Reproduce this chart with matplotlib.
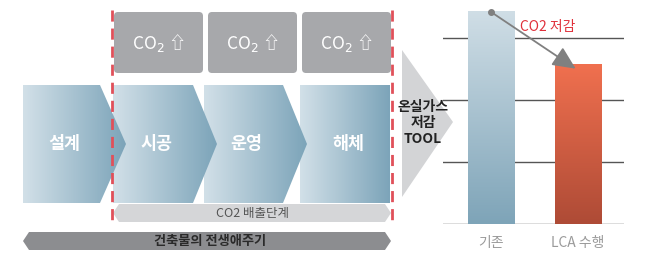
import matplotlib
matplotlib.use("Agg")
import matplotlib.pyplot as plt
import numpy as np
from matplotlib.patches import Polygon, FancyBboxPatch
from matplotlib.colors import LinearSegmentedColormap

plt.rcParams['font.family'] = ['Noto Sans CJK KR', 'DejaVu Sans']
plt.rcParams['mathtext.fontset'] = 'dejavusans'

# data
stages = ['설계', '시공', '운영', '해체']
co2_boxes = ['CO$_2$ ⇧', 'CO$_2$ ⇧', 'CO$_2$ ⇧']
tool_label = '온실가스\n저감\nTOOL'
emit_label = 'CO2 배출단계'
life_label = '건축물의 전생애주기'
categories = ['기존', 'LCA 수행']
values = [3.44, 2.58]
reduce_label = 'CO2 저감'

W, H = 653, 254
fig = plt.figure(figsize=(W / 100, H / 100), dpi=100)
ax = fig.add_axes([0, 0, 1, 1])
ax.set_xlim(0, W)
ax.set_ylim(H, 0)
ax.axis('off')

blue = LinearSegmentedColormap.from_list('b', ['#d2e0e8', '#7ca4b9'])
grad_h = np.linspace(0, 1, 256).reshape(1, -1)


def grad_poly(pts, z):
    poly = Polygon(pts, closed=True, facecolor='none', edgecolor='none', zorder=z)
    ax.add_patch(poly)
    xs = [p[0] for p in pts]
    ys = [p[1] for p in pts]
    im = ax.imshow(grad_h, cmap=blue, extent=(min(xs), max(xs), max(ys), min(ys)),
                   aspect='auto', zorder=z, interpolation='bicubic')
    im.set_clip_path(poly)


# chevrons (left edge, right edge at top, tip x)
chev = [(23, 100, 126), (113, 193, 217), (204, 283, 307), (300, 390, 390)]
top, bot, mid = 85, 203, 144
for i, (name, (l, r, tip)) in enumerate(zip(stages, chev)):
    pts = [(l, top), (r, top), (tip, mid), (r, bot), (l, bot)]
    grad_poly(pts, 10 - i)
    ax.text((l + r) / 2 + 3, mid, name, color='white', fontsize=12.5,
            fontweight='bold', ha='center', va='center', zorder=20)

# grey CO2 boxes
box_x = [(114, 203), (208, 297), (302, 391)]
for lab, (x0, x1) in zip(co2_boxes, box_x):
    ax.add_patch(FancyBboxPatch((x0 + 4, 16), x1 - x0 - 8, 53,
                                boxstyle='round,pad=4', fc='#a7a8ab', ec='none', zorder=5))
    ax.text((x0 + x1) / 2, 43, lab, color='white', fontsize=12.5,
            ha='center', va='center', zorder=6)

# red dashed lines
for x in (112, 392):
    ax.plot([x, x], [10, 222], color='#e0505a', lw=2, ls=(0, (4, 2.5)), zorder=15)


def double_arrow(x0, x1, y0, y1, color, z):
    m = (y0 + y1) / 2
    h = 6
    pts = [(x0, m), (x0 + h, y0), (x1 - h, y0), (x1, m), (x1 - h, y1), (x0 + h, y1)]
    ax.add_patch(Polygon(pts, closed=True, fc=color, ec='none', zorder=z))


double_arrow(113, 391, 204, 222, '#d5d6d8', 4)
ax.text(252, 213, emit_label, color='#555555', fontsize=9, ha='center', va='center', zorder=6)
double_arrow(23, 391, 232, 250, '#8c8d90', 4)
ax.text(210, 241, life_label, color='#2a2a2a', fontsize=9.5, fontweight='bold',
        ha='center', va='center', zorder=6)

# big triangle
ax.add_patch(Polygon([(402, 50), (453, 122), (402, 197)], closed=True,
                     fc='#d3d4d6', ec='none', zorder=3))
ax.text(423, 123, tool_label, color='#222222', fontsize=10, fontweight='bold',
        ha='center', va='center', linespacing=1.15, zorder=6)

# bar chart
bx = fig.add_axes([443 / W, (H - 224) / H, (624 - 443) / W, 224 / H])
bx.patch.set_alpha(0)
for s in bx.spines.values():
    s.set_visible(False)
bx.set_yticks([0, 1, 2, 3])
bx.set_yticklabels([])
bx.tick_params(length=0)
bx.grid(axis='y', color='#555555', lw=1)
bx.set_axisbelow(True)
xpos = np.arange(len(categories))
bars = bx.bar(xpos, values, width=0.53, color='none', zorder=3)
cmaps = [LinearSegmentedColormap.from_list('c1', ['#7ea4b8', '#d0dee6']),
         LinearSegmentedColormap.from_list('c2', ['#ae4b36', '#f0704f'])]
grad_v = np.linspace(0, 1, 256).reshape(-1, 1)
for b, cm in zip(bars, cmaps):
    x0, w, hgt = b.get_x(), b.get_width(), b.get_height()
    im = bx.imshow(grad_v, cmap=cm, extent=(x0, x0 + w, 0, hgt), origin='lower',
                   aspect='auto', zorder=3, interpolation='bicubic')
    im.set_clip_path(b)
bx.set_xlim(-0.552, 1.529)
bx.set_ylim(0, 224 / 62)
bx.set_xticks(xpos)
bx.set_xticklabels(categories, color='#9a9a9a', fontsize=10)
bx.tick_params(axis='x', pad=9)

# reduction arrow
bx.plot([0], [values[0] - 0.02], 'o', color='#808080', ms=4, zorder=6)
bx.annotate('', xy=(1.0, values[1] - 0.1), xytext=(0, values[0] - 0.02),
            arrowprops=dict(arrowstyle='-|>,head_length=1.4,head_width=0.65',
                            color='#808080', lw=1.3), zorder=6)
bx.text(0.65, 3.17, reduce_label, color='#e0303a', fontsize=10,
        ha='center', va='center', zorder=6)

fig.savefig('out.png', dpi=100)
